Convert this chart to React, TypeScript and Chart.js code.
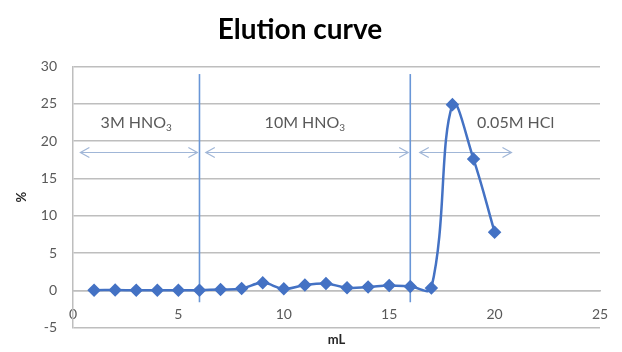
import React, { useEffect, useRef } from 'react';
import { Chart, registerables } from 'chart.js';

Chart.register(...registerables);

const volumes = [1, 2, 3, 4, 5, 6, 7, 8, 9, 10, 11, 12, 13, 14, 15, 16, 17, 18, 19, 20];
const percents = [0.02, 0.03, 0.01, 0.0, 0.01, 0.02, 0.1, 0.25, 1.0, 0.2, 0.7, 0.9, 0.35, 0.45, 0.65, 0.5, 0.3, 24.9, 17.6, 7.8];

const phaseBoundaries = [6, 16];
const phaseNames = ['3M HNO', '10M HNO', '0.05M HCl'];
const phaseSubs = ['3', '3', ''];
const phaseLabelX = [3.0, 11.0, 21.0];
const phaseLabelY = 22.5;
const arrowStarts = [0.35, 6.3, 16.45];
const arrowEnds = [5.9, 15.9, 20.8];
const arrowY = 18.6;

const FONT = 'Lato, "Open Sans", "DejaVu Sans", sans-serif';

const annotations = {
  id: 'annotations',
  beforeDatasetsDraw(chart: any) {
    const { ctx, scales } = chart;
    const x = scales.x;
    const y = scales.y;
    ctx.save();
    // phase boundaries
    ctx.strokeStyle = 'rgb(105,150,215)';
    ctx.lineWidth = 1.6;
    phaseBoundaries.forEach((b) => {
      const px = x.getPixelForValue(b);
      ctx.beginPath();
      ctx.moveTo(px, y.getPixelForValue(29));
      ctx.lineTo(px, y.getPixelForValue(-1.6));
      ctx.stroke();
    });
    // arrows
    ctx.strokeStyle = 'rgb(160,182,215)';
    ctx.lineWidth = 1.2;
    const py = Math.round(y.getPixelForValue(arrowY)) + 0.5;
    arrowStarts.forEach((s, i) => {
      const x1 = x.getPixelForValue(s);
      const x2 = x.getPixelForValue(arrowEnds[i]);
      ctx.beginPath();
      ctx.moveTo(x1, py);
      ctx.lineTo(x2, py);
      ctx.moveTo(x1 + 9, py - 5);
      ctx.lineTo(x1, py);
      ctx.lineTo(x1 + 9, py + 5);
      ctx.moveTo(x2 - 9, py - 5);
      ctx.lineTo(x2, py);
      ctx.lineTo(x2 - 9, py + 5);
      ctx.stroke();
    });
    // labels
    ctx.fillStyle = '#595959';
    ctx.textBaseline = 'middle';
    const ly = y.getPixelForValue(phaseLabelY);
    phaseNames.forEach((name, i) => {
      ctx.font = `16px ${FONT}`;
      const w1 = ctx.measureText(name).width;
      ctx.font = `10px ${FONT}`;
      const w2 = phaseSubs[i] ? ctx.measureText(phaseSubs[i]).width : 0;
      const cx = x.getPixelForValue(phaseLabelX[i]);
      const left = cx - (w1 + w2) / 2;
      ctx.textAlign = 'left';
      ctx.font = `16px ${FONT}`;
      ctx.fillText(name, left, ly);
      if (phaseSubs[i]) {
        ctx.font = `10px ${FONT}`;
        ctx.fillText(phaseSubs[i], left + w1, ly + 5);
      }
    });
    ctx.restore();
  },
};

export default function App() {
  const ref = useRef<HTMLCanvasElement>(null);
  useEffect(() => {
    document.body.style.margin = '0';
    const chart = new Chart(ref.current!, {
      type: 'line',
      data: {
        datasets: [
          {
            data: volumes.map((v, i) => ({ x: v, y: percents[i] })),
            borderColor: 'rgb(68,114,196)',
            backgroundColor: 'rgb(68,114,196)',
            borderWidth: 2.5,
            pointStyle: 'rectRot',
            pointRadius: 5,
            tension: 0.4,
            xAxisID: 'x',
            yAxisID: 'y',
          },
        ],
      },
      options: {
        animation: false,
        responsive: false,
        maintainAspectRatio: false,
        layout: { padding: { left: 0, right: 22, top: 0, bottom: 0 } },
        plugins: {
          legend: { display: false },
          tooltip: { enabled: false },
          title: {
            display: true,
            text: 'Elution curve',
            color: '#000',
            font: { family: FONT, size: 28, weight: 'bold' },
            padding: { top: 13, bottom: 20 },
          },
        },
        scales: {
          x: {
            type: 'linear',
            position: { y: 0 } as any,
            min: 0,
            max: 25,
            ticks: {
              stepSize: 5,
              color: '#595959',
              font: { family: FONT, size: 14 },
              padding: 8,
            },
            grid: { display: false },
            border: { display: true, color: 'rgb(190,190,190)', width: 1.5 },
            afterFit: (s: any) => { s.paddingBottom = 0; s.paddingTop = 0; },
          },
          x2: {
            type: 'linear',
            position: 'bottom',
            min: 0,
            max: 25,
            ticks: { display: false },
            grid: { display: false },
            border: { display: false },
            title: {
              display: true,
              text: 'mL',
              color: '#262626',
              font: { family: FONT, size: 13, weight: 'bold' },
              padding: { top: 2, bottom: 2 },
            },
            afterFit: (s: any) => { s.height = 22; s.paddingBottom = 0; s.paddingTop = 0; },
          },
          y: {
            type: 'linear',
            min: -5,
            max: 30,
            ticks: {
              stepSize: 5,
              color: '#595959',
              font: { family: FONT, size: 14 },
              padding: 16,
            },
            grid: { color: 'rgb(190,190,190)', lineWidth: 1.5, drawTicks: false },
            border: { display: true, color: 'rgb(190,190,190)', width: 1.5 },
            title: {
              display: true,
              text: '%',
              color: '#262626',
              font: { family: FONT, size: 13, weight: 'bold' },
              padding: { top: 14, bottom: 0 },
            },
            afterFit: (s: any) => { s.width = 73; },
          },
        },
      },
      plugins: [annotations],
    });
    return () => chart.destroy();
  }, []);
  return (
    <div style={{ width: 622, height: 352 }}>
      <canvas ref={ref} width={622} height={352} style={{ width: 622, height: 352 }} />
    </div>
  );
}
